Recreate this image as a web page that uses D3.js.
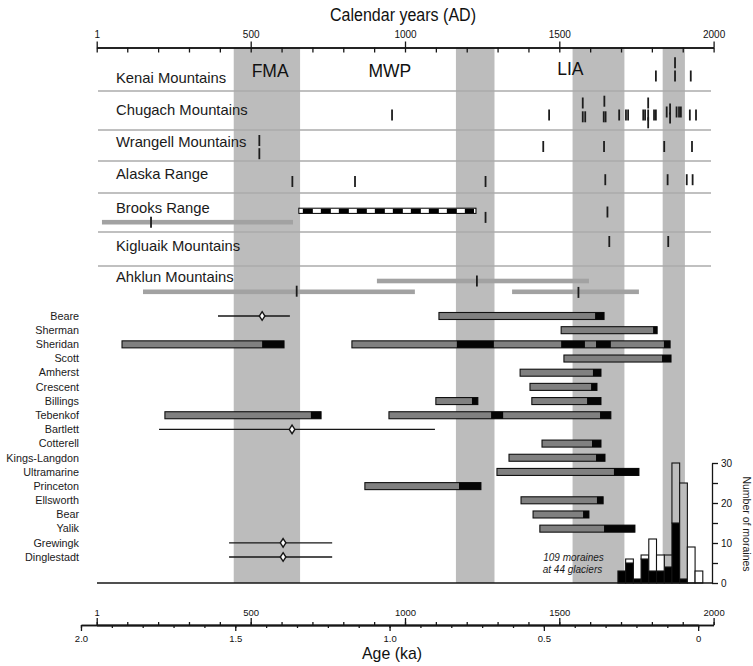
<!DOCTYPE html>
<html><head><meta charset="utf-8">
<script src="https://cdn.jsdelivr.net/npm/d3@7"></script>
<style>
body{margin:0;background:#fff;}
svg{display:block;font-family:"Liberation Sans",Arial,sans-serif;}
</style></head><body>
<svg id="c" width="753" height="666"></svg>
<script>
// ---------------- DATA ----------------
const calMajor = [1, 500, 1000, 1500, 2000];
const calMinor = [1, 100, 200, 300, 400, 500, 600, 700, 800, 900, 1000, 1100, 1200, 1300, 1400, 1500, 1600, 1700, 1800, 1900, 2000];
const ageMajor = [2.0, 1.5, 1.0, 0.5, 0];
const ageMinor = [2.0,1.9,1.8,1.7,1.6,1.5,1.4,1.3,1.2,1.1,1.0,0.9,0.8,0.7,0.6,0.5,0.4,0.3,0.2,0.1,0];

const periodBands = [[445, 660], [1165, 1290], [1543, 1711], [1835, 1907]];
const periodLabels = ["FMA", "MWP", "LIA"];
const periodLabelYears = [563, 951, 1536];

const regions = ["Kenai Mountains", "Chugach Mountains", "Wrangell Mountains", "Alaska Range",
  "Brooks Range", "Kigluaik Mountains", "Ahklun Mountains"];
// [region index, year AD, stacking lane]
const regionDates = [
  [0,1813,0],[0,1875,0],[0,1875,-2.2],[0,1926,0],
  [1,958,0],[1,1467,0],[1,1576,-2],[1,1576,0.3],[1,1584,0.3],[1,1644,0.3],[1,1646,-2.3],[1,1650,0.3],
  [1,1694,0],[1,1716,0],[1,1723,0],[1,1772,0],[1,1778,0],[1,1788,-2],[1,1788,0],[1,1788,1.3],
  [1,1807,0],[1,1813,0],[1,1848,-0.5],[1,1859,-1],[1,1859,0.5],[1,1880,-0.5],[1,1888,-0.5],[1,1894,-0.5],
  [1,1923,0],[1,1943,0],
  [2,528,-1],[2,528,1.2],[2,1448,0],[2,1645,0],[2,1840,0],[2,1930,0],
  [3,635,0],[3,838,0],[3,1261,0],[3,1649,-0.3],[3,1851,-0.3],[3,1913,-0.3],[3,1932,-0.3],
  [4,177,1.7],[4,1261,0.9],[4,1656,0],
  [5,1662,0],[5,1853,0],
  [6,1233,0],[6,649,1.7],[6,1562,1.9]
];
// [region index, from, to, lane, kind]
const regionRanges = [
  [4,18,637,1.7,"range"],[4,656,1230,-0.2,"lichen"],
  [6,909,1596,0,"range"],[6,151,1032,1.8,"range"],[6,1347,1758,1.8,"range"]
];

const glaciers = ["Beare","Sherman","Sheridan","Scott","Amherst","Crescent","Billings","Tebenkof","Bartlett",
  "Cotterell","Kings-Langdon","Ultramarine","Princeton","Ellsworth","Bear","Yalik","Grewingk","Dinglestadt"];
// [glacier, from, to] tree-ring / advance intervals
const glacierBars = [
  ["Beare",1110,1645],["Sherman",1506,1817],["Sheridan",83,608],["Sheridan",828,1859],["Scott",1515,1862],
  ["Amherst",1373,1635],["Crescent",1405,1622],["Billings",1100,1236],["Billings",1411,1635],
  ["Tebenkof",222,728],["Tebenkof",948,1667],["Cotterell",1444,1635],["Kings-Langdon",1337,1648],
  ["Ultramarine",1298,1758],["Princeton",870,1246],["Ellsworth",1376,1642],["Bear",1415,1596],["Yalik",1437,1745]
];
// [glacier, from, to] ice-margin advance (black)
const glacierAdvance = [
  ["Beare",1616,1645],["Sherman",1804,1817],["Sheridan",537,608],["Sheridan",1168,1288],["Sheridan",1506,1583],
  ["Sheridan",1619,1667],["Sheridan",1839,1859],["Scott",1833,1862],["Amherst",1609,1635],["Crescent",1603,1622],
  ["Billings",1217,1236],["Billings",1590,1635],["Tebenkof",695,728],["Tebenkof",1279,1318],["Tebenkof",1632,1667],
  ["Cotterell",1606,1635],["Kings-Langdon",1619,1648],["Ultramarine",1677,1758],["Princeton",1175,1246],
  ["Ellsworth",1622,1642],["Bear",1577,1596],["Yalik",1645,1745]
];
// [glacier, from, to, central date]
const glacierRanges = [
  ["Beare",394,627,537],["Bartlett",203,1097,634],["Grewingk",430,764,605],["Dinglestadt",430,764,605]
];

// histogram of moraines, 25-yr bins
const binStart = [1690,1715,1740,1765,1790,1815,1840,1865,1890,1915,1940];
const countBlack = [3,5,1,6,3,3,4,15,1,0,0];
const countGray  = [0,0,0,0,0,0,3,15,24,0,0];
const countWhite = [0,1,0,1,8,4,0,0,0,9,3];
const histTicks = [0,5,10,15,20,25,30];

// ---------------- LAYOUT ----------------
const svg = d3.select("#c");
const TOP = 47.5, BASE = 583, AXB = 625;
const x = d3.scaleLinear().domain([0, 2000]).range([96.4, 713.6]);
const xAge = d3.scaleLinear().domain([2, 0]).range([x(-50), x(1950)]);
const regMainY = [76, 115, 146.5, 181.5, 212, 241.5, 281];
const regLabelBase = [83, 115, 146.5, 179, 213, 251, 281.5];
const regSepY = [91, 130, 161, 193, 232, 266];
const LANE = 6;
const yG = d3.scalePoint().domain(glaciers).range([316, 557]);
const yH = d3.scaleLinear().domain([0, 30]).range([BASE, 463]);
const ink = "#161616";

// period bands
svg.append("g").selectAll("rect").data(periodBands).join("rect")
  .attr("x", d => x(d[0])).attr("width", d => x(d[1]) - x(d[0]))
  .attr("y", TOP).attr("height", BASE - TOP).attr("fill", "#bcbcbc");

// period labels
svg.append("g").selectAll("text").data(periodLabels).join("text")
  .attr("x", (d, i) => x(periodLabelYears[i])).attr("y", (d, i) => i === 2 ? 74.5 : 77)
  .attr("text-anchor", "middle").attr("font-size", 17.5).attr("fill", "#111").text(d => d);

// region separators
svg.append("g").selectAll("line").data(regSepY).join("line")
  .attr("x1", 98).attr("x2", 711).attr("y1", d => d).attr("y2", d => d)
  .attr("stroke", "#ababab").attr("stroke-width", 1.3);

// region labels
svg.append("g").selectAll("text").data(regions).join("text")
  .attr("x", 116).attr("y", (d, i) => regLabelBase[i])
  .attr("font-size", 14.8).attr("fill", "#1a1a1a").text(d => d);

// region ranges
const rr = svg.append("g");
regionRanges.forEach(r => {
  const cy = regMainY[r[0]] + r[3] * LANE;
  if (r[4] === "range") {
    rr.append("rect").attr("x", x(r[1])).attr("width", x(r[2]) - x(r[1]))
      .attr("y", cy - 2.3).attr("height", 4.6).attr("fill", "#a2a2a2");
  } else {
    rr.append("rect").attr("x", x(r[1])).attr("width", x(r[2]) - x(r[1]))
      .attr("y", cy - 2.6).attr("height", 5.2).attr("fill", "#fff").attr("stroke", "#000").attr("stroke-width", 1);
    rr.append("line").attr("x1", x(r[1]) + 4).attr("x2", x(r[2]) - 2).attr("y1", cy).attr("y2", cy)
      .attr("stroke", "#000").attr("stroke-width", 4.2).attr("stroke-dasharray", "10,8");
  }
});

// region dates
svg.append("g").selectAll("line").data(regionDates).join("line")
  .attr("x1", d => x(d[1])).attr("x2", d => x(d[1]))
  .attr("y1", d => regMainY[d[0]] + d[2] * LANE - 5.5)
  .attr("y2", d => regMainY[d[0]] + d[2] * LANE + 5.5)
  .attr("stroke", "#1c1c1c").attr("stroke-width", 1.8);

// glacier labels
svg.append("g").selectAll("text").data(glaciers).join("text")
  .attr("x", 79).attr("y", d => yG(d)).attr("dy", "0.35em").attr("text-anchor", "end")
  .attr("font-size", 10.8).attr("fill", "#1a1a1a").text(d => d);

// glacier ranges with diamonds
const gr = svg.append("g");
gr.selectAll("line").data(glacierRanges).join("line")
  .attr("x1", d => x(d[1])).attr("x2", d => x(d[2])).attr("y1", d => yG(d[0])).attr("y2", d => yG(d[0]))
  .attr("stroke", ink).attr("stroke-width", 1.3);
gr.selectAll("path").data(glacierRanges).join("path")
  .attr("transform", d => `translate(${x(d[3])},${yG(d[0])})`)
  .attr("d", "M0,-4.3L2.8,0L0,4.3L-2.8,0Z")
  .attr("fill", "#fff").attr("stroke", ink).attr("stroke-width", 1.4);

// glacier bars
svg.append("g").selectAll("rect").data(glacierBars).join("rect")
  .attr("x", d => x(d[1])).attr("width", d => x(d[2]) - x(d[1]))
  .attr("y", d => yG(d[0]) - 3.5).attr("height", 7)
  .attr("fill", "#808080").attr("stroke", "#111").attr("stroke-width", 1.1);
svg.append("g").selectAll("rect").data(glacierAdvance).join("rect")
  .attr("x", d => x(d[1])).attr("width", d => x(d[2]) - x(d[1]))
  .attr("y", d => yG(d[0]) - 3.5).attr("height", 7).attr("fill", "#050505");

// histogram
const histRows = binStart.map((b, i) => ({bin: b, black: countBlack[i], gray: countGray[i], white: countWhite[i]}));
const stacked = d3.stack().keys(["black", "gray", "white"])(histRows);
const histFill = {black: "#000", gray: "#bcbcbc", white: "#fff"};
const hg = svg.append("g");
stacked.forEach(layer => {
  hg.append("g").selectAll("rect").data(layer.filter(d => d[1] > d[0])).join("rect")
    .attr("x", d => x(d.data.bin)).attr("width", d => x(d.data.bin + 25) - x(d.data.bin))
    .attr("y", d => yH(d[1])).attr("height", d => yH(d[0]) - yH(d[1]))
    .attr("fill", histFill[layer.key]).attr("stroke", "#111").attr("stroke-width", 1.1);
});

// baseline
svg.append("line").attr("x1", 97).attr("x2", 712).attr("y1", BASE).attr("y2", BASE)
  .attr("stroke", ink).attr("stroke-width", 1.5);

// right histogram axis
svg.append("g").attr("transform", "translate(712,0)")
  .call(d3.axisRight(yH).tickValues(histTicks).tickSize(6).tickSizeOuter(0).tickPadding(3)
    .tickFormat(d => d % 10 === 0 ? d : ""));
svg.append("text").attr("transform", "translate(743,524) rotate(90)").attr("text-anchor", "middle")
  .attr("font-size", 10.5).attr("fill", "#1a1a1a").text("Number of moraines");

// annotation
svg.append("text").attr("x", 573.5).attr("y", 561).attr("text-anchor", "middle")
  .attr("font-size", 10).attr("font-style", "italic").attr("fill", "#1a1a1a").text("109 moraines");
svg.append("text").attr("x", 572.5).attr("y", 573).attr("text-anchor", "middle")
  .attr("font-size", 10).attr("font-style", "italic").attr("fill", "#1a1a1a").text("at 44 glaciers");

// top axis
const gTop = svg.append("g").attr("transform", `translate(0,${TOP})`);
gTop.append("g").call(d3.axisBottom(x).tickValues(calMinor).tickSize(5).tickSizeOuter(0).tickFormat(""));
gTop.append("g").call(d3.axisTop(x).tickValues(calMajor).tickSize(6).tickSizeOuter(0).tickPadding(4).tickFormat(d3.format("d")));
svg.append("text").attr("x", 403).attr("y", 21).attr("text-anchor", "middle")
  .attr("font-size", 17.5).attr("textLength", 146).attr("lengthAdjust", "spacingAndGlyphs")
  .attr("fill", "#111").text("Calendar years (AD)");

// bottom axes
const gB = svg.append("g").attr("transform", `translate(0,${AXB})`);
gB.append("g").call(d3.axisTop(x).tickValues(calMinor).tickSize(3).tickSizeOuter(0).tickFormat(""));
gB.append("g").call(d3.axisTop(x).tickValues(calMajor).tickSize(7).tickSizeOuter(0).tickPadding(2).tickFormat(d3.format("d")));
gB.append("g").call(d3.axisBottom(xAge).tickValues(ageMinor).tickSize(3).tickSizeOuter(0).tickFormat(""));
gB.append("g").call(d3.axisBottom(xAge).tickValues(ageMajor).tickSize(6).tickSizeOuter(0).tickPadding(4)
  .tickFormat(d => d === 0 ? "0" : d3.format(".1f")(d)));
svg.append("text").attr("x", 392).attr("y", 659).attr("text-anchor", "middle")
  .attr("font-size", 17).attr("textLength", 60).attr("lengthAdjust", "spacingAndGlyphs")
  .attr("fill", "#111").text("Age (ka)");

// axis styling
svg.selectAll(".domain, .tick line").attr("stroke", ink).attr("stroke-width", 1.3);
svg.selectAll(".tick text").attr("font-family", "Liberation Sans, Arial, sans-serif").attr("font-size", 10).attr("fill", "#111");
gB.selectAll(".tick text").attr("font-size", 9.5);
</script>
</body></html>
